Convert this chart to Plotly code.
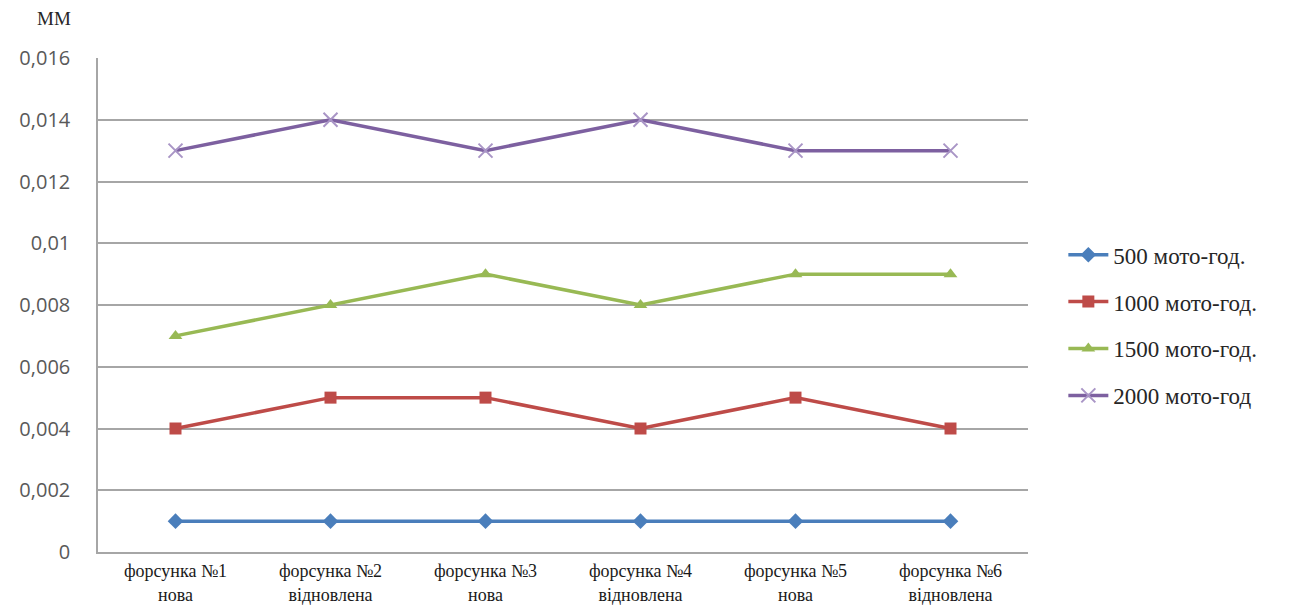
import plotly.graph_objects as go

# Injector categories (x axis)
categories = [
    "форсунка №1<br>нова",
    "форсунка №2<br>відновлена",
    "форсунка №3<br>нова",
    "форсунка №4<br>відновлена",
    "форсунка №5<br>нова",
    "форсунка №6<br>відновлена",
]

# Wear values, mm, per operating time
wear_500 = [0.001, 0.001, 0.001, 0.001, 0.001, 0.001]
wear_1000 = [0.004, 0.005, 0.005, 0.004, 0.005, 0.004]
wear_1500 = [0.007, 0.008, 0.009, 0.008, 0.009, 0.009]
wear_2000 = [0.013, 0.014, 0.013, 0.014, 0.013, 0.013]

series_names = ["500 мото-год.", "1000 мото-год.", "1500 мото-год.", "2000 мото-год"]
y_ticks = [0, 0.002, 0.004, 0.006, 0.008, 0.01, 0.012, 0.014, 0.016]

styles = [
    dict(color="#4A7EBB", marker=dict(symbol="diamond", size=12, color="#4A7EBB")),
    dict(color="#BE4B48", marker=dict(symbol="square", size=12, color="#BE4B48")),
    dict(color="#98B954", marker=dict(symbol="triangle-up", size=12, color="#98B954")),
    dict(color="#7D60A0", marker=dict(symbol="x-thin-open", size=14,
                                      color="#A995C6", line=dict(width=2, color="#A995C6"))),
]

fig = go.Figure()
for i, (name, vals, st) in enumerate(zip(series_names,
                                          [wear_500, wear_1000, wear_1500, wear_2000],
                                          styles)):
    fig.add_trace(go.Scatter(
        x=categories, y=vals, name=name, mode="lines+markers",
        line=dict(color=st["color"], width=3.5),
        marker=st["marker"],
        legendgroup=f"g{i}",
    ))

fig.update_layout(
    width=1308, height=608,
    margin=dict(l=98, r=280, t=58, b=56),
    paper_bgcolor="white", plot_bgcolor="white",
    separators=", ",
    showlegend=True,
    legend=dict(
        x=1.038, y=0.459, xanchor="left", yanchor="middle",
        font=dict(family="Liberation Serif", size=23, color="#262626"),
        tracegroupgap=14, itemwidth=40,
        bgcolor="rgba(0,0,0,0)",
    ),
    xaxis=dict(
        type="category",
        automargin=False,
        showgrid=False,
        showline=True, linecolor="#A6A6A6", linewidth=1.5,
        ticks="", ticklabelstandoff=2,
        tickfont=dict(family="Liberation Serif", size=18, color="#1a1a1a"),
        range=[-0.5, 5.5],
    ),
    yaxis=dict(
        range=[0, 0.016],
        automargin=False,
        tickvals=y_ticks,
        tickformat="~g",
        showgrid=True, gridcolor="#A6A6A6", gridwidth=1.5,
        showline=True, linecolor="#A6A6A6", linewidth=1.5,
        zeroline=False,
        ticks="", ticklabelstandoff=22,
        tickfont=dict(family="Open Sans", size=20, color="#595959"),
    ),
)

fig.add_annotation(
    text="ММ", xref="paper", yref="paper", x=-0.027, y=1.0, yshift=40,
    xanchor="right", yanchor="middle", showarrow=False,
    font=dict(family="Liberation Serif", size=19, color="#262626"),
)

fig.write_html("out.html")
